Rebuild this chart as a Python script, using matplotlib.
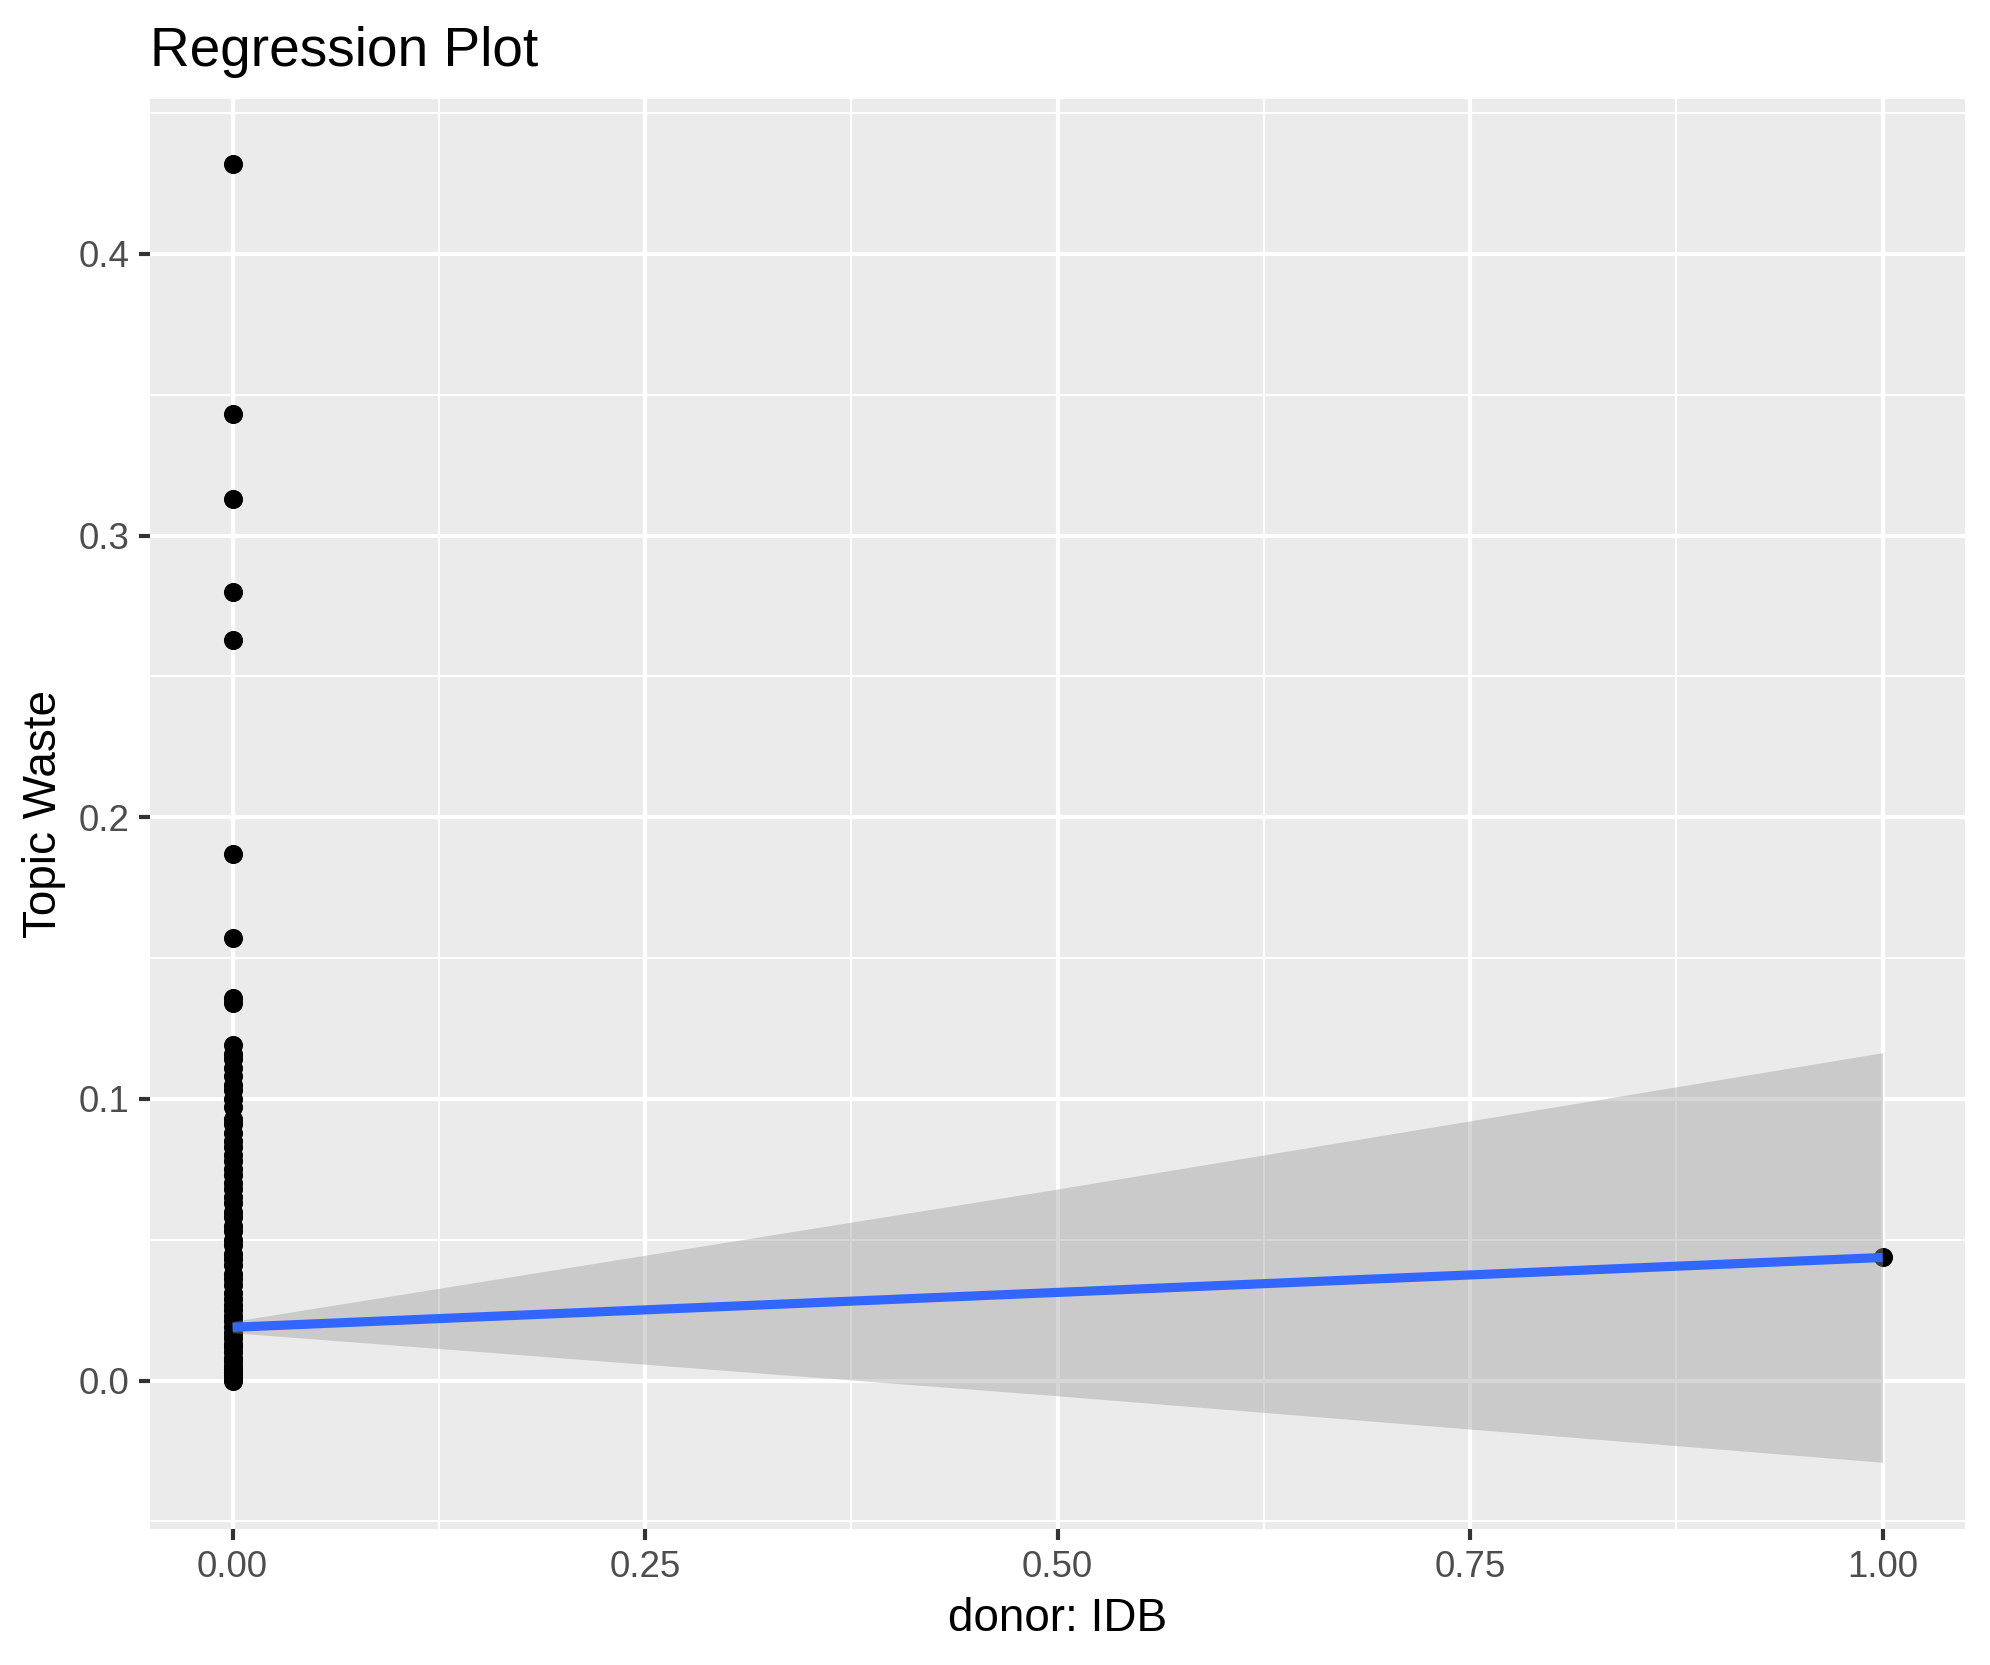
import matplotlib
matplotlib.use("Agg")
import matplotlib.pyplot as plt
from matplotlib.ticker import FixedLocator

plt.rcParams['font.family'] = ['Liberation Sans', 'DejaVu Sans']

# topic share per project, donor IDB = 0 (most) or 1 (one project)
y_donor0 = [0.432, 0.343, 0.313, 0.280, 0.263, 0.187, 0.157, 0.136, 0.134,
            0.0, 0.001, 0.002, 0.003, 0.004, 0.005, 0.007, 0.008, 0.010, 0.012,
            0.013, 0.015, 0.017, 0.019, 0.021, 0.023, 0.025, 0.027, 0.029, 0.031,
            0.034, 0.036, 0.038, 0.041, 0.043, 0.045, 0.048, 0.050, 0.053, 0.055,
            0.058, 0.060, 0.063, 0.065, 0.068, 0.070, 0.073, 0.075, 0.078, 0.080,
            0.083, 0.085, 0.088, 0.091, 0.093, 0.097, 0.100, 0.103, 0.105, 0.108,
            0.111, 0.114, 0.116, 0.119]
y_donor1 = [0.0437]

# lm fit with 95% band
fit_x = [0.0, 0.5, 1.0]
fit_y = [0.0189, 0.0313, 0.0437]
ci_lo = [0.0170, -0.0054, -0.0290]
ci_hi = [0.0210, 0.0680, 0.1164]

xticks = [0.0, 0.25, 0.5, 0.75, 1.0]
yticks = [0.0, 0.1, 0.2, 0.3, 0.4]

fig = plt.figure(figsize=(1990 / 300, 1665 / 300), dpi=300)
ax = fig.add_axes([150 / 1990, 1 - 1529 / 1665, 1815 / 1990, 1430 / 1665])
ax.set_facecolor('#EBEBEB')
for s in ax.spines.values():
    s.set_visible(False)

ax.scatter([0] * len(y_donor0), y_donor0, s=21, color='black', linewidths=0, zorder=3)
ax.scatter([1] * len(y_donor1), y_donor1, s=21, color='black', linewidths=0, zorder=3)
ax.fill_between(fit_x, ci_lo, ci_hi, color='#999999', alpha=0.4, linewidth=0, zorder=4)
ax.plot(fit_x, fit_y, color='#3366FF', lw=2.2, solid_capstyle='butt', zorder=5)

ax.set_xlim(-0.05, 1.05)
ax.set_ylim(-0.0527, 0.455)
ax.xaxis.set_major_locator(FixedLocator(xticks))
ax.yaxis.set_major_locator(FixedLocator(yticks))
ax.xaxis.set_minor_locator(FixedLocator([0.125, 0.375, 0.625, 0.875]))
ax.yaxis.set_minor_locator(FixedLocator([-0.05, 0.05, 0.15, 0.25, 0.35, 0.45]))
ax.set_xticklabels(['%.2f' % v for v in xticks])
ax.set_yticklabels(['%.1f' % v for v in yticks])
ax.grid(which='major', color='white', lw=1.0, zorder=0)
ax.grid(which='minor', color='white', lw=0.5, zorder=0)
ax.set_axisbelow(True)
ax.tick_params(which='major', length=2.75, width=1.0, color='#333333',
               labelsize=8.8, labelcolor='#4D4D4D', pad=2.2)
ax.tick_params(which='minor', length=0)

ax.set_xlabel('donor: IDB', fontsize=11, labelpad=3)
ax.set_ylabel('Topic Waste', fontsize=11, labelpad=3)
ax.set_title('Regression Plot', fontsize=13.2, loc='left', pad=8)

fig.savefig('out.png', dpi=300)
